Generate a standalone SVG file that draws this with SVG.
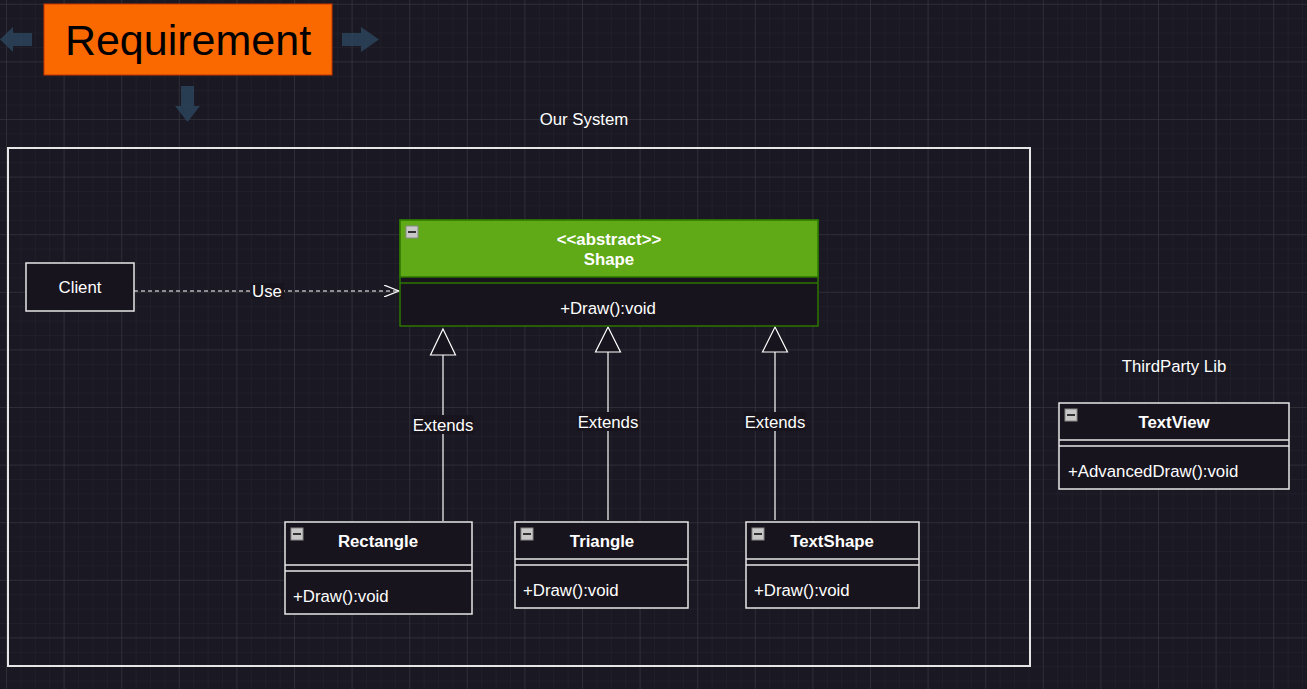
<svg xmlns="http://www.w3.org/2000/svg" width="1307" height="689" viewBox="0 0 1307 689">
<style>
text{font-family:"Liberation Sans",Arial,sans-serif;fill:#ffffff}
.t{font-size:16.8px}
.b{font-size:16.8px;font-weight:bold}
.box{fill:#18141d;stroke:#e6e6e6;stroke-width:1.5}
.sep{stroke:#e6e6e6;stroke-width:1.5}
.ln{stroke:#ffffff;stroke-width:1.2;fill:none}
.hint{fill:#2d4a63;opacity:0.75}
</style>
<defs>
<pattern id="minor" width="14.4" height="14.4" patternUnits="userSpaceOnUse" x="6" y="3.8">
<path d="M0 0H14.4M0 0V14.4" stroke="#25232d" stroke-width="1" fill="none"/>
</pattern>
<pattern id="major" width="57.6" height="57.6" patternUnits="userSpaceOnUse" x="6" y="3.8">
<path d="M0 0H57.6M0 0V57.6" stroke="#3b3a42" stroke-width="1" fill="none"/>
</pattern>
<g id="minus"><rect x="0" y="0" width="12" height="12" fill="#c8c8c8" stroke="#8a8a8a"/><rect x="2" y="5" width="8" height="2" fill="#333"/></g>
<marker id="open" markerWidth="16" markerHeight="12" refX="15" refY="6" orient="auto" markerUnits="userSpaceOnUse"><path d="M0 0L15 6L0 12" fill="none" stroke="#ffffff" stroke-width="1.2"/></marker>
</defs>
<rect width="1307" height="689" fill="#1a1822"/>
<rect width="1307" height="689" fill="url(#minor)"/>
<rect width="1307" height="689" fill="url(#major)"/>

<g id="hints">
<path class="hint" d="M32 33H13V27L0 39.5L13 52V46H32Z"/>
<path class="hint" d="M342 33H361V27L379 39.5L361 52V46H342Z"/>
<path class="hint" d="M181 86H194V106H200L187.5 122L175 106H181Z"/>
</g>

<g id="requirement">
<rect x="44" y="4" width="288" height="71" fill="#fa6800" stroke="#c73500" stroke-width="1"/>
<text x="188" y="55" text-anchor="middle" style="font-size:43px;fill:#000000">Requirement</text>
</g>

<g id="our-system">
<rect x="8" y="148" width="1022" height="518" fill="none" stroke="#e6e6e6" stroke-width="2"/>
<text class="t" x="584" y="125" text-anchor="middle">Our System</text>
</g>

<g id="thirdparty-label">
<text class="t" x="1174" y="372" text-anchor="middle">ThirdParty Lib</text>
</g>

<g id="connectors">
<path class="ln" d="M134 291H399" stroke-dasharray="4 3" marker-end="url(#open)"/>
<rect x="251" y="283" width="33" height="16" fill="#18141d"/>
<text class="t" x="267" y="297" text-anchor="middle">Use</text>

<path class="ln" d="M443 521V355"/>
<path d="M443 329L455.5 355H430.5Z" fill="#18141d" stroke="#ffffff" stroke-width="1.2"/>
<rect x="412" y="415" width="62" height="19" fill="#18141d"/>
<text class="t" x="443" y="431" text-anchor="middle">Extends</text>

<path class="ln" d="M608 520V352"/>
<path d="M608 327L620.5 352H595.5Z" fill="#18141d" stroke="#ffffff" stroke-width="1.2"/>
<rect x="577" y="412" width="62" height="19" fill="#18141d"/>
<text class="t" x="608" y="428" text-anchor="middle">Extends</text>

<path class="ln" d="M775 520V352"/>
<path d="M775 327L787.5 352H762.5Z" fill="#18141d" stroke="#ffffff" stroke-width="1.2"/>
<rect x="744" y="412" width="62" height="19" fill="#18141d"/>
<text class="t" x="775" y="428" text-anchor="middle">Extends</text>
</g>

<g id="client">
<rect class="box" x="26" y="263" width="108" height="48"/>
<text class="t" x="80" y="293" text-anchor="middle">Client</text>
</g>

<g id="shape">
<rect x="400" y="220" width="418" height="106" fill="#18141d" stroke="#2d7600" stroke-width="1.5"/>
<rect x="400" y="220" width="418" height="57" fill="#60a917" stroke="#2d7600" stroke-width="1.5"/>
<line x1="400" y1="283" x2="818" y2="283" stroke="#2d7600" stroke-width="1.5"/>
<use href="#minus" x="406" y="226"/>
<text class="b" x="609" y="245" text-anchor="middle">&lt;&lt;abstract&gt;&gt;</text>
<text class="b" x="609" y="265" text-anchor="middle">Shape</text>
<text class="t" x="608" y="314" text-anchor="middle">+Draw():void</text>
</g>

<g id="rectangle">
<rect class="box" x="285" y="522" width="187" height="92"/>
<line class="sep" x1="285" y1="565" x2="472" y2="565"/>
<line class="sep" x1="285" y1="571" x2="472" y2="571"/>
<use href="#minus" x="291" y="528"/>
<text class="b" x="378" y="547" text-anchor="middle">Rectangle</text>
<text class="t" x="293" y="602">+Draw():void</text>
</g>

<g id="triangle">
<rect class="box" x="515" y="522" width="173" height="86"/>
<line class="sep" x1="515" y1="559" x2="688" y2="559"/>
<line class="sep" x1="515" y1="565" x2="688" y2="565"/>
<use href="#minus" x="521" y="528"/>
<text class="b" x="602" y="547" text-anchor="middle">Triangle</text>
<text class="t" x="523" y="596">+Draw():void</text>
</g>

<g id="textshape">
<rect class="box" x="746" y="522" width="173" height="86"/>
<line class="sep" x1="746" y1="559" x2="919" y2="559"/>
<line class="sep" x1="746" y1="565" x2="919" y2="565"/>
<use href="#minus" x="752" y="528"/>
<text class="b" x="832" y="547" text-anchor="middle">TextShape</text>
<text class="t" x="754" y="596">+Draw():void</text>
</g>

<g id="textview">
<rect class="box" x="1059" y="403" width="230" height="86"/>
<line class="sep" x1="1059" y1="440" x2="1289" y2="440"/>
<line class="sep" x1="1059" y1="446" x2="1289" y2="446"/>
<use href="#minus" x="1065" y="409"/>
<text class="b" x="1174" y="428" text-anchor="middle">TextView</text>
<text class="t" x="1068" y="477">+AdvancedDraw():void</text>
</g>
</svg>
